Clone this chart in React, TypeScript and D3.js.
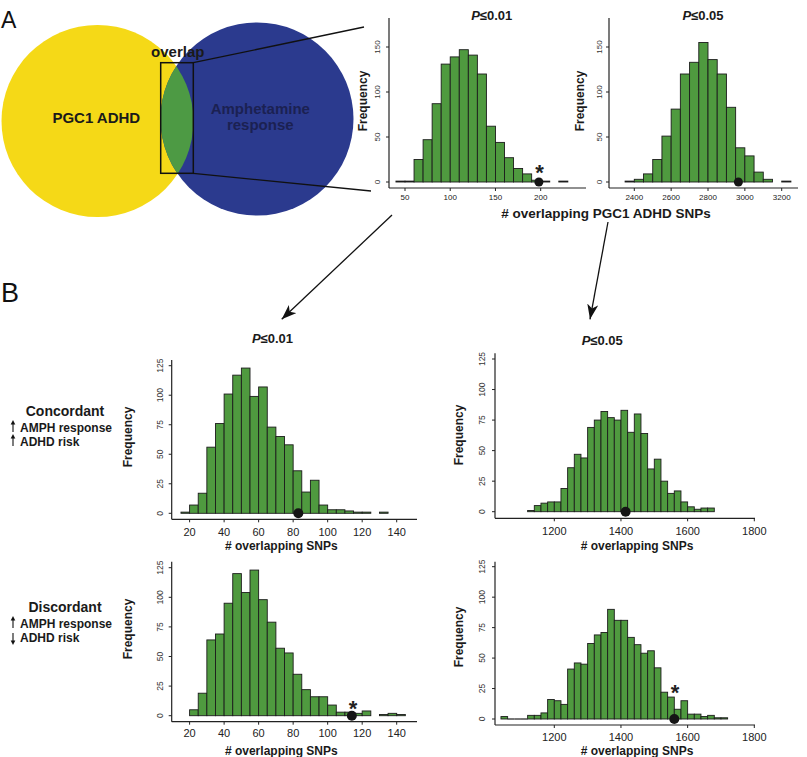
import React from "react";
import * as d3 from "d3";

// ---------- DATA ----------
const topLeftStart = 40;
const topLeftBin = 10;
const topLeftCounts = [1, 1, 25, 47, 87, 131, 139, 147, 141, 120, 62, 44, 27, 15, 9, 2, 1, 0, 1];
const topLeftObserved = 198;
const topLeftXTicks = [50, 100, 150, 200];

const topRightStart = 2350;
const topRightBin = 50;
const topRightCounts = [1, 3, 9, 25, 51, 81, 120, 133, 155, 136, 120, 83, 38, 29, 11, 3, 0, 1];
const topRightObserved = 2965;
const topRightXTicks = [2400, 2600, 2800, 3000, 3200];

const topYTicks = [0, 50, 100, 150];

const concLeftStart = 15;
const concLeftBin = 5;
const concLeftCounts = [1, 7, 17, 56, 76, 101, 117, 123, 99, 107, 73, 65, 58, 36, 18, 28, 7, 3, 3, 2, 1, 1, 0, 1];
const concLeftObserved = 83;

const discLeftStart = 20;
const discLeftBin = 5;
const discLeftCounts = [5, 19, 64, 69, 95, 120, 104, 123, 98, 79, 57, 53, 35, 22, 16, 16, 9, 3, 3, 2, 4, 0, 1, 2, 1];
const discLeftObserved = 114;

const bottomLeftXTicks = [20, 40, 60, 80, 100, 120, 140];

const concRightStart = 1120;
const concRightBin = 20;
const concRightCounts = [1, 5, 7, 8, 8, 19, 36, 47, 44, 69, 75, 82, 77, 75, 83, 65, 80, 64, 35, 43, 25, 15, 17, 8, 4, 2, 3, 3];
const concRightObserved = 1414;

const discRightStart = 1040;
const discRightBin = 20;
const discRightCounts = [2, 0, 0, 0, 3, 3, 5, 16, 15, 12, 41, 46, 45, 62, 69, 71, 90, 81, 81, 67, 61, 54, 56, 42, 22, 18, 8, 15, 4, 4, 2, 3, 1, 1];
const discRightObserved = 1560;

const bottomRightXTicks = [1200, 1400, 1600, 1800];
const bottomYTicks = [0, 25, 50, 75, 100, 125];

const FONT = "'Liberation Sans', Arial, Helvetica, sans-serif";
const BAR_FILL = "#4f9a3f";
const BAR_STROKE = "#1c1c1c";

type PanelCfg = {
  counts: number[];
  start: number;
  bin: number;
  observed: number;
  star?: { x: number; y: number };
  zeroAsLine?: boolean;
  xDom: [number, number];
  xRng: [number, number];
  yDom: [number, number];
  yRng: [number, number];
  axisLeft: number;
  axisTop: number;
  axisBottom: number;
  axisRight: number;
  xTicks: number[];
  yTicks: number[];
  xTickFont: number;
  yTickFont: number;
  xTickLabelY: number;
  yTickLabelX: number;
  dotR: number;
  freqX: number;
  freqY: number;
  freqFont: number;
};

function Panel({ cfg }: { cfg: PanelCfg }) {
  const x = d3.scaleLinear().domain(cfg.xDom).range(cfg.xRng);
  const y = d3.scaleLinear().domain(cfg.yDom).range(cfg.yRng);
  const y0 = y(0);
  return (
    <g>
      {cfg.counts.map((c, i) => {
        const a = x(cfg.start + i * cfg.bin);
        const b = x(cfg.start + (i + 1) * cfg.bin);
        if (c === 0) {
          return cfg.zeroAsLine ? (
            <line key={i} x1={a} x2={b} y1={y0} y2={y0} stroke={BAR_STROKE} strokeWidth={1.2} />
          ) : null;
        }
        return (
          <rect
            key={i}
            x={a}
            y={y(c)}
            width={b - a}
            height={y0 - y(c)}
            fill={BAR_FILL}
            stroke={BAR_STROKE}
            strokeWidth={0.9}
          />
        );
      })}
      <line x1={cfg.axisLeft} x2={cfg.axisLeft} y1={cfg.axisTop} y2={cfg.axisBottom} stroke="#222" strokeWidth={1.2} />
      <line x1={cfg.axisLeft} x2={cfg.axisRight} y1={cfg.axisBottom} y2={cfg.axisBottom} stroke="#222" strokeWidth={1.2} />
      {cfg.xTicks.map((t) => (
        <g key={"xt" + t}>
          <line x1={x(t)} x2={x(t)} y1={cfg.axisBottom} y2={cfg.axisBottom + 3} stroke="#222" strokeWidth={1} />
          <text x={x(t)} y={cfg.xTickLabelY} textAnchor="middle" fontSize={cfg.xTickFont} fill="#222" fontFamily={FONT}>
            {t}
          </text>
        </g>
      ))}
      {cfg.yTicks.map((t) => (
        <g key={"yt" + t}>
          <line x1={cfg.axisLeft - 3} x2={cfg.axisLeft} y1={y(t)} y2={y(t)} stroke="#222" strokeWidth={1} />
          <text
            transform={`translate(${cfg.yTickLabelX},${y(t)}) rotate(-90)`}
            textAnchor="middle"
            dominantBaseline="central"
            fontSize={cfg.yTickFont}
            fill="#333"
            fontFamily={FONT}
          >
            {t}
          </text>
        </g>
      ))}
      <circle cx={x(cfg.observed)} cy={y0} r={cfg.dotR} fill="#151515" />
      {cfg.star && (
        <text x={cfg.star.x} y={cfg.star.y} textAnchor="middle" fontSize={22} fontWeight="bold" fill="#222" fontFamily={FONT}>
          *
        </text>
      )}
      <text
        transform={`translate(${cfg.freqX},${cfg.freqY}) rotate(-90)`}
        textAnchor="middle"
        dominantBaseline="central"
        fontSize={cfg.freqFont}
        fontWeight="bold"
        fill="#1a1a1a"
        fontFamily={FONT}
      >
        Frequency
      </text>
    </g>
  );
}

function SmallArrow({ x, yFrom, yTo }: { x: number; yFrom: number; yTo: number }) {
  const dir = yTo < yFrom ? -1 : 1;
  return (
    <g>
      <line x1={x} x2={x} y1={yFrom} y2={yTo - dir * 3} stroke="#111" strokeWidth={1.1} />
      <path d={`M${x - 2.3},${yTo - dir * 4.5} L${x},${yTo} L${x + 2.3},${yTo - dir * 4.5} Z`} fill="#111" />
    </g>
  );
}

function Title({ x, y, p }: { x: number; y: number; p: string }) {
  return (
    <text x={x} y={y} textAnchor="middle" fontSize={13} fontWeight="bold" fill="#1a1a1a" fontFamily={FONT}>
      <tspan fontStyle="italic">P</tspan>
      {"≤" + p}
    </text>
  );
}

export default function App() {
  const topLeft: PanelCfg = {
    counts: topLeftCounts, start: topLeftStart, bin: topLeftBin, observed: topLeftObserved,
    star: { x: 539.5, y: 179.5 },
    xDom: [50, 200], xRng: [405, 540.7], yDom: [0, 150], yRng: [182, 47],
    axisLeft: 389, axisTop: 18, axisBottom: 188, axisRight: 586,
    xTicks: topLeftXTicks, yTicks: topYTicks, xTickFont: 8, yTickFont: 8,
    xTickLabelY: 200, yTickLabelX: 377.5, dotR: 4.5, freqX: 363, freqY: 101, freqFont: 12,
  };
  const topRight: PanelCfg = {
    counts: topRightCounts, start: topRightStart, bin: topRightBin, observed: topRightObserved,
    xDom: [2400, 3200], xRng: [634.3, 781.7], yDom: [0, 150], yRng: [182, 47],
    axisLeft: 609, axisTop: 18, axisBottom: 188, axisRight: 798,
    xTicks: topRightXTicks, yTicks: topYTicks, xTickFont: 8, yTickFont: 8,
    xTickLabelY: 200, yTickLabelX: 599, dotR: 4.5, freqX: 580, freqY: 101, freqFont: 12,
  };
  const concLeft: PanelCfg = {
    counts: concLeftCounts, start: concLeftStart, bin: concLeftBin, observed: concLeftObserved,
    xDom: [20, 140], xRng: [189.6, 396.7], yDom: [0, 125], yRng: [513.3, 365.7],
    axisLeft: 171.7, axisTop: 360, axisBottom: 519.3, axisRight: 417,
    xTicks: bottomLeftXTicks, yTicks: bottomYTicks, xTickFont: 11, yTickFont: 8.5,
    xTickLabelY: 535.5, yTickLabelX: 160, dotR: 5, freqX: 128.3, freqY: 437, freqFont: 12,
  };
  const discLeft: PanelCfg = {
    counts: discLeftCounts, start: discLeftStart, bin: discLeftBin, observed: discLeftObserved,
    star: { x: 353, y: 716 },
    xDom: [20, 140], xRng: [189.6, 396.7], yDom: [0, 125], yRng: [715.7, 567.7],
    axisLeft: 171.7, axisTop: 561.7, axisBottom: 721.7, axisRight: 417,
    xTicks: bottomLeftXTicks, yTicks: bottomYTicks, xTickFont: 11, yTickFont: 8.5,
    xTickLabelY: 737, yTickLabelX: 160, dotR: 5, freqX: 128.3, freqY: 629, freqFont: 12,
  };
  const concRight: PanelCfg = {
    counts: concRightCounts, start: concRightStart, bin: concRightBin, observed: concRightObserved,
    xDom: [1200, 1800], xRng: [554.3, 754.3], yDom: [0, 125], yRng: [511.7, 359],
    axisLeft: 495, axisTop: 353.3, axisBottom: 518.3, axisRight: 755,
    xTicks: bottomRightXTicks, yTicks: bottomYTicks, xTickFont: 11, yTickFont: 8.5,
    xTickLabelY: 535, yTickLabelX: 481.5, dotR: 5, freqX: 459, freqY: 435, freqFont: 12,
  };
  const discRight: PanelCfg = {
    counts: discRightCounts, start: discRightStart, bin: discRightBin, observed: discRightObserved,
    star: { x: 675, y: 700 }, zeroAsLine: true,
    xDom: [1200, 1800], xRng: [554.3, 754.3], yDom: [0, 125], yRng: [719, 566.7],
    axisLeft: 495, axisTop: 561.7, axisBottom: 725, axisRight: 755,
    xTicks: bottomRightXTicks, yTicks: bottomYTicks, xTickFont: 11, yTickFont: 8.5,
    xTickLabelY: 740.5, yTickLabelX: 481.5, dotR: 5, freqX: 459, freqY: 637, freqFont: 12,
  };

  return (
    <svg
      width={807}
      height={757}
      viewBox="0 0 807 757"
      style={{ position: "absolute", left: 0, top: 0, background: "#fff" }}
      fontFamily={FONT}
    >
      <defs>
        <clipPath id="blueClip">
          <circle cx={257} cy={119} r={96.5} />
        </clipPath>
        <marker id="arrowHead" markerUnits="userSpaceOnUse" markerWidth={15} markerHeight={11} refX={15} refY={5.5} orient="auto">
          <path d="M0,0 L15,5.5 L0,11 L4,5.5 Z" fill="#111" />
        </marker>
      </defs>
      <rect x={0} y={0} width={807} height={757} fill="#fff" />

      {/* Panel letters */}
      <text x={1} y={28} fontSize={23} fill="#111" fontFamily={FONT}>A</text>
      <text x={1} y={302} fontSize={27} fill="#111" fontFamily={FONT}>B</text>

      {/* Venn */}
      <circle cx={97.5} cy={121} r={96} fill="#f5d917" />
      <circle cx={257} cy={119} r={96.5} fill="#2b3a8e" />
      <circle cx={97.5} cy={121} r={96} fill="#4d9a44" clipPath="url(#blueClip)" />
      <rect x={160.7} y={62.7} width={32.6} height={110.6} fill="none" stroke="#111" strokeWidth={1.5} />
      <line x1={193.3} y1={62.7} x2={364} y2={27} stroke="#111" strokeWidth={1.3} />
      <line x1={193.3} y1={173.3} x2={371} y2={191} stroke="#111" strokeWidth={1.3} />
      <text x={177.8} y={57} textAnchor="middle" fontSize={15} fontWeight="bold" fill="#1a1a1a">overlap</text>
      <text x={96.3} y={122.5} textAnchor="middle" fontSize={15} fontWeight="bold" fill="#1a1a1a">PGC1 ADHD</text>
      <text x={260.3} y={113.5} textAnchor="middle" fontSize={15} fontWeight="bold" fill="#1b2152">Amphetamine</text>
      <text x={260.3} y={130} textAnchor="middle" fontSize={15} fontWeight="bold" fill="#1b2152">response</text>

      {/* Top histograms */}
      <Title x={491.7} y={19.7} p="0.01" />
      <Title x={703} y={19.7} p="0.05" />
      <Panel cfg={topLeft} />
      <Panel cfg={topRight} />
      <text x={606} y={218} textAnchor="middle" fontSize={13.5} fontWeight="bold" fill="#1a1a1a">
        # overlapping PGC1 ADHD SNPs
      </text>

      {/* Arrows */}
      <line x1={392} y1={215} x2={281.7} y2={319.3} stroke="#111" strokeWidth={1.3} markerEnd="url(#arrowHead)" />
      <line x1={608} y1={222} x2={590} y2={319.3} stroke="#111" strokeWidth={1.3} markerEnd="url(#arrowHead)" />

      {/* Bottom titles */}
      <Title x={272.5} y={342.7} p="0.01" />
      <Title x={602.2} y={344.7} p="0.05" />

      {/* Row labels */}
      <text x={65} y={416} textAnchor="middle" fontSize={14} fontWeight="bold" fill="#1a1a1a">Concordant</text>
      <SmallArrow x={13} yFrom={432} yTo={420} />
      <text x={20} y={431.7} fontSize={12} fontWeight="bold" fill="#1a1a1a">AMPH response</text>
      <SmallArrow x={13} yFrom={446} yTo={434} />
      <text x={20} y={445.7} fontSize={12} fontWeight="bold" fill="#1a1a1a">ADHD risk</text>

      <text x={65} y={611.7} textAnchor="middle" fontSize={14} fontWeight="bold" fill="#1a1a1a">Discordant</text>
      <SmallArrow x={13} yFrom={628} yTo={616} />
      <text x={20} y={628} fontSize={12} fontWeight="bold" fill="#1a1a1a">AMPH response</text>
      <SmallArrow x={13} yFrom={633} yTo={645} />
      <text x={20} y={642} fontSize={12} fontWeight="bold" fill="#1a1a1a">ADHD risk</text>

      {/* Bottom histograms */}
      <Panel cfg={concLeft} />
      <Panel cfg={discLeft} />
      <Panel cfg={concRight} />
      <Panel cfg={discRight} />

      <text x={281.3} y={549.5} textAnchor="middle" fontSize={12} fontWeight="bold" fill="#1a1a1a"># overlapping SNPs</text>
      <text x={281.3} y={754.5} textAnchor="middle" fontSize={12} fontWeight="bold" fill="#1a1a1a"># overlapping SNPs</text>
      <text x={637} y={549.5} textAnchor="middle" fontSize={12} fontWeight="bold" fill="#1a1a1a"># overlapping SNPs</text>
      <text x={637} y={754.5} textAnchor="middle" fontSize={12} fontWeight="bold" fill="#1a1a1a"># overlapping SNPs</text>
    </svg>
  );
}
